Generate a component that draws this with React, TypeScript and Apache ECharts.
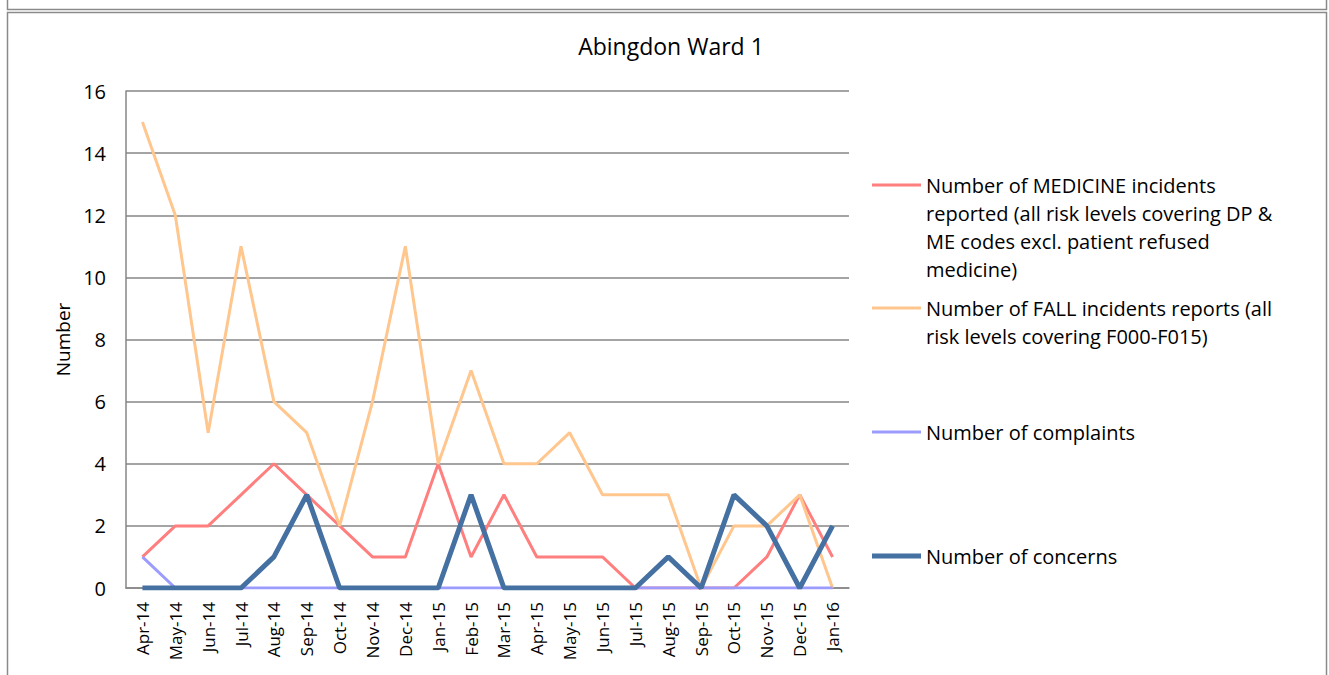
import React, { useEffect, useRef } from "react";
import * as echarts from "echarts";

const categories = [
  "Apr-14", "May-14", "Jun-14", "Jul-14", "Aug-14", "Sep-14", "Oct-14", "Nov-14",
  "Dec-14", "Jan-15", "Feb-15", "Mar-15", "Apr-15", "May-15", "Jun-15", "Jul-15",
  "Aug-15", "Sep-15", "Oct-15", "Nov-15", "Dec-15", "Jan-16",
];

const medicine = [1, 2, 2, 3, 4, 3, 2, 1, 1, 4, 1, 3, 1, 1, 1, 0, 0, 0, 0, 1, 3, 1];
const falls = [15, 12, 5, 11, 6, 5, 2, 6, 11, 4, 7, 4, 4, 5, 3, 3, 3, 0, 2, 2, 3, 0];
const complaints = [1, 0, 0, 0, 0, 0, 0, 0, 0, 0, 0, 0, 0, 0, 0, 0, 0, 0, 0, 0, 0, 0];
const concerns = [0, 0, 0, 0, 1, 3, 0, 0, 0, 0, 3, 0, 0, 0, 0, 0, 1, 0, 3, 2, 0, 2];

const seriesNames = [
  "Number of MEDICINE incidents reported (all risk levels covering DP & ME codes excl. patient refused medicine)",
  "Number of FALL incidents reports (all risk levels covering F000-F015)",
  "Number of complaints",
  "Number of concerns",
];
const legendLines = [
  ["Number of MEDICINE incidents", "reported (all risk levels covering DP &", "ME codes excl. patient refused", "medicine)"],
  ["Number of FALL incidents reports (all", "risk levels covering F000-F015)"],
  ["Number of complaints"],
  ["Number of concerns"],
];
const colors = ["#FF7F7F", "#FFC68E", "#9C9CFF", "#4570A2"];
const widths = [3, 3, 3, 5];
const seriesData = [medicine, falls, complaints, concerns];

const yTicks = [0, 2, 4, 6, 8, 10, 12, 14, 16];
const title = "Abingdon Ward 1";
const yName = "Number";

const FONT = "'Open Sans', 'Noto Sans', sans-serif";

export default function App() {
  const ref = useRef<HTMLDivElement>(null);
  useEffect(() => {
    if (!ref.current) return;
    const chart = echarts.init(ref.current, null, { renderer: "svg" });
    const legendY = [185, 308, 432, 556];
    const graphics: any[] = [
      { type: "rect", shape: { x: 7.5, y: -5, width: 1319, height: 14.5 }, style: { fill: "none", stroke: "#8a8a8a", lineWidth: 1.5 } },
      { type: "rect", shape: { x: 7.5, y: 12.5, width: 1319, height: 700 }, style: { fill: "none", stroke: "#8a8a8a", lineWidth: 1.5 } },
    ];
    legendLines.forEach((lines, i) => {
      graphics.push({
        type: "line",
        shape: { x1: 872, y1: legendY[i], x2: 921, y2: legendY[i] },
        style: { stroke: colors[i], lineWidth: widths[i] },
      });
      graphics.push({
        type: "text",
        x: 926,
        y: legendY[i] - 14,
        style: {
          text: lines.join("\n"),
          fill: "#000",
          font: `20px ${FONT}`,
          lineHeight: 28,
          textVerticalAlign: "top",
          textAlign: "left",
        },
      });
    });
    chart.setOption({
      animation: false,
      backgroundColor: "#fff",
      title: {
        text: title,
        left: 666,
        top: 29,
        textAlign: "center",
        textStyle: { fontFamily: FONT, fontSize: 23, fontWeight: "normal", color: "#000" },
      },
      grid: { left: 126, top: 91, right: 480, bottom: 87 },
      xAxis: {
        type: "category",
        data: categories,
        boundaryGap: true,
        axisLine: { lineStyle: { color: "#868686", width: 1.5 } },
        axisTick: { show: false },
        axisLabel: {
          rotate: 90,
          interval: 0,
          margin: 14,
          color: "#000",
          fontFamily: FONT,
          fontSize: 17,
        },
      },
      yAxis: {
        type: "value",
        min: 0,
        max: 16,
        interval: 2,
        name: yName,
        nameLocation: "middle",
        nameGap: 52,
        nameTextStyle: { fontFamily: FONT, fontSize: 19, color: "#000" },
        axisLine: { show: true, lineStyle: { color: "#868686", width: 1.5 } },
        axisTick: { show: false },
        axisLabel: {
          color: "#000",
          fontFamily: FONT,
          fontSize: 20,
          margin: 20,
          formatter: (v: number) => (yTicks.includes(v) ? String(v) : ""),
        },
        splitLine: { show: true, lineStyle: { color: "#868686", width: 1.5 } },
      },
      graphic: graphics,
      series: seriesData.map((d, i) => ({
        name: seriesNames[i],
        type: "line",
        data: d,
        symbol: "none",
        lineStyle: { color: colors[i], width: widths[i] },
        itemStyle: { color: colors[i] },
        z: 2 + i,
      })),
    });
    return () => chart.dispose();
  }, []);
  return (
    <div
      ref={ref}
      style={{ position: "fixed", left: 0, top: 0, width: 1329, height: 675, background: "#fff" }}
    />
  );
}
